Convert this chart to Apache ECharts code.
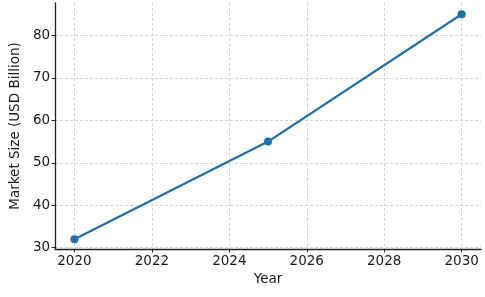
<!DOCTYPE html>
<html><head><meta charset="utf-8">
<script src="https://cdn.jsdelivr.net/npm/echarts@6/dist/echarts.min.js"></script>
<style>html,body{margin:0;padding:0;background:#fff}#c{width:485px;height:297px}</style>
</head><body><div id="c"></div>
<script>
const years = [2020, 2025, 2030];
const marketSize = [32, 55, 85];
const xTicks = [2020, 2022, 2024, 2026, 2028, 2030];
const yTicks = [30, 40, 50, 60, 70, 80];

const chart = echarts.init(document.getElementById('c'), null, {renderer: 'canvas'});
const font = 'DejaVu Sans';
const txt = '#1a1a1a';
chart.setOption({
  animation: false,
  grid: {left: 52, right: 4, top: 3, bottom: 48, containLabel: false},
  xAxis: {
    type: 'value', min: 2019.5, max: 2030.5,
    name: 'Year', nameLocation: 'middle', nameGap: 22,
    nameTextStyle: {fontFamily: font, fontSize: 13.5, color: txt},
    axisLine: {show: true, onZero: false, lineStyle: {color: '#222', width: 1.3}},
    axisTick: {show: true, length: 3.5, customValues: xTicks, lineStyle: {color: '#222'}},
    axisLabel: {customValues: xTicks, formatter: v => String(v), fontFamily: font, fontSize: 13.5, color: txt, margin: 5},
    splitLine: {show: true, customValues: xTicks, lineStyle: {color: '#cccccc', type: [3, 2], width: 0.8}}
  },
  yAxis: {
    type: 'value', min: 29.7, max: 87.65,
    name: 'Market Size (USD Billion)', nameLocation: 'middle', nameGap: 31,
    nameTextStyle: {fontFamily: font, fontSize: 13.5, color: txt},
    axisLine: {show: true, onZero: false, lineStyle: {color: '#222', width: 1.3}},
    axisTick: {show: true, length: 3.5, customValues: yTicks, lineStyle: {color: '#222'}},
    axisLabel: {customValues: yTicks, formatter: v => String(v), fontFamily: font, fontSize: 13.5, color: txt, margin: 5},
    splitLine: {show: true, customValues: yTicks, lineStyle: {color: '#cccccc', type: [3, 2], width: 0.8}}
  },
  series: [{
    type: 'line',
    data: years.map((y, i) => [y, marketSize[i]]),
    symbol: 'circle', symbolSize: 8,
    lineStyle: {color: '#1f6fa5', width: 2.2},
    itemStyle: {color: '#1f6fa5'}
  }]
});
</script></body></html>
